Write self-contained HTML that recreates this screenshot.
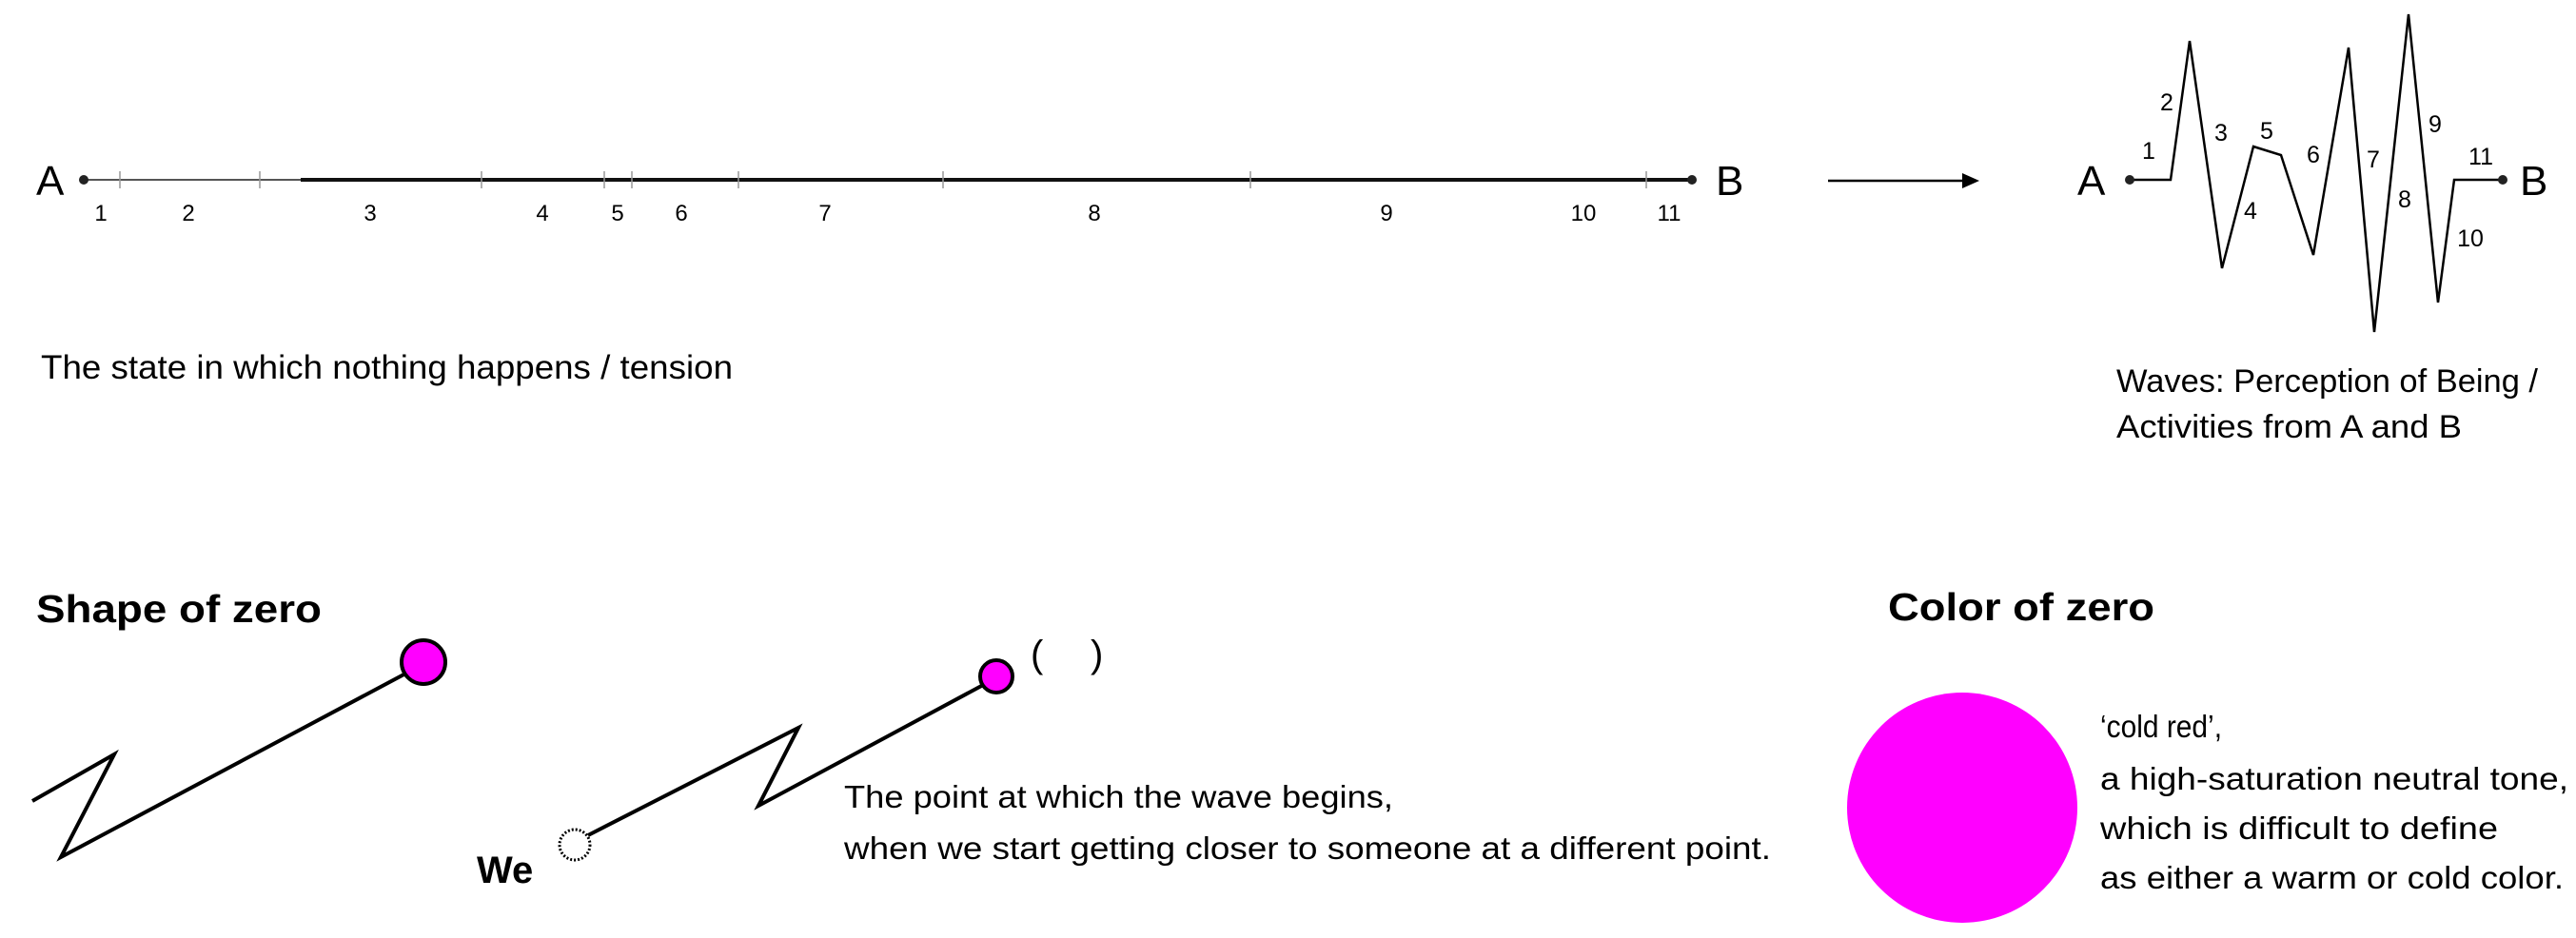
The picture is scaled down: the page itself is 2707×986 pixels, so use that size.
<!DOCTYPE html>
<html><head><meta charset="utf-8"><style>
html,body{margin:0;padding:0;background:#fff;width:2707px;height:986px;overflow:hidden}
svg{display:block}
text{font-family:"Liberation Sans",sans-serif;fill:#000}
</style></head><body>
<svg id="s" width="2707" height="986" viewBox="0 0 2707 986">
<g id="topLine">
  <line x1="88" y1="189" x2="316" y2="189" stroke="#555" stroke-width="2"/>
  <line x1="316" y1="189" x2="1778" y2="189" stroke="#111" stroke-width="4"/>
  <circle cx="88" cy="189" r="5" fill="#222"/>
  <circle cx="1778" cy="189" r="5" fill="#222"/>
  <text x="38" y="205" font-size="44">A</text>
  <text x="1803" y="205" font-size="44">B</text>
</g>
<text x="43" y="398" font-size="35" textLength="727" lengthAdjust="spacingAndGlyphs">The state in which nothing happens / tension</text>
<g>
  <line x1="1921" y1="190" x2="2064" y2="190" stroke="#000" stroke-width="2.5"/>
  <polygon points="2080,190 2062,182 2062,198" fill="#000"/>
</g>
<g id="waveGroup">
  <text x="2183" y="205" font-size="44">A</text>
  <text x="2648" y="205" font-size="44">B</text>
</g>
<text x="2224" y="412" font-size="34" textLength="443" lengthAdjust="spacingAndGlyphs">Waves: Perception of Being /</text>
<text x="2224" y="460" font-size="34" textLength="363" lengthAdjust="spacingAndGlyphs">Activities from A and B</text>

<text x="38" y="654" font-size="41" font-weight="bold" textLength="300" lengthAdjust="spacingAndGlyphs">Shape of zero</text>
<polyline points="34,842 120,793 64,901 430,706" fill="none" stroke="#000" stroke-width="4"/>
<circle cx="445" cy="696" r="23" fill="#ff00ff" stroke="#000" stroke-width="4"/>

<polyline points="618,878 839,765 797,847 1035,719" fill="none" stroke="#000" stroke-width="4"/>
<circle cx="604" cy="888" r="16" fill="none" stroke="#000" stroke-width="3" stroke-dasharray="2 2"/>
<circle cx="1047" cy="711" r="17" fill="#ff00ff" stroke="#000" stroke-width="4"/>
<text x="1083" y="701" font-size="40">(</text>
<text x="1146" y="701" font-size="40">)</text>
<text x="501" y="928" font-size="40" font-weight="bold">We</text>
<text x="887" y="849" font-size="33" textLength="577" lengthAdjust="spacingAndGlyphs">The point at which the wave begins,</text>
<text x="887" y="903" font-size="33" textLength="974" lengthAdjust="spacingAndGlyphs">when we start getting closer to someone at a different point.</text>

<text x="1984" y="652" font-size="41" font-weight="bold" textLength="280" lengthAdjust="spacingAndGlyphs">Color of zero</text>
<circle cx="2062" cy="849" r="121" fill="#ff00ff"/>
<text x="2207" y="775" font-size="33" textLength="128" lengthAdjust="spacingAndGlyphs">‘cold red’,</text>
<text x="2207" y="830" font-size="33" textLength="492" lengthAdjust="spacingAndGlyphs">a high-saturation neutral tone,</text>
<text x="2207" y="882" font-size="33" textLength="418" lengthAdjust="spacingAndGlyphs">which is difficult to define</text>
<text x="2207" y="934" font-size="33" textLength="487" lengthAdjust="spacingAndGlyphs">as either a warm or cold color.</text>
</svg>
<script>
const segmentLabels = ["1","2","3","4","5","6","7","8","9","10","11"];
const tickPositions = [126,273,506,635,664,776,991,1314,1730];
const labelPositions = [106,198,389,570,649,716,867,1150,1457,1664,1754];
const waveX = [2238,2281,2301,2335,2368,2397,2431,2468,2495,2531,2562,2579,2630];
const waveY = [189,189,43,282,154,163,268,50,349,15,318,189,189];
const waveLabelX = [2258,2277,2334,2365,2382,2431,2494,2527,2559,2596,2607];
const waveLabelY = [158,107,139,221,137,162,167,209,130,250,164];

const NS = "http://www.w3.org/2000/svg";
const topLineG = document.getElementById('topLine');
const waveG = document.getElementById('waveGroup');
function mk(tag, attrs){const e=document.createElementNS(NS,tag);for(const k in attrs)e.setAttribute(k,attrs[k]);return e;}
tickPositions.forEach(x=>{
  const t=mk('line',{x1:x,y1:180,x2:x,y2:198,stroke:'#999','stroke-width':1.5});
  
  
  topLineG.appendChild(t);
});
segmentLabels.forEach((s,i)=>{
  const t=mk('text',{x:labelPositions[i],y:232,'font-size':24,'text-anchor':'middle',fill:'#333'});
  t.textContent=s;
  
  
  topLineG.appendChild(t);
});
const pl=mk('polyline',{points:waveX.map((x,i)=>x+','+waveY[i]).join(' '),fill:'none',stroke:'#000','stroke-width':2.5,'stroke-linejoin':'miter'});


waveG.appendChild(pl);
[[waveX[0],waveY[0]],[waveX[waveX.length-1],waveY[waveY.length-1]]].forEach(p=>{
  const c=mk('circle',{cx:p[0],cy:p[1],r:5,fill:'#222'});
  
  
  waveG.appendChild(c);
});
segmentLabels.forEach((s,i)=>{
  const t=mk('text',{x:waveLabelX[i],y:waveLabelY[i]+9,'font-size':25,'text-anchor':'middle',fill:'#222'});
  t.textContent=s;
  
  
  waveG.appendChild(t);
});
</script>
</body></html>
